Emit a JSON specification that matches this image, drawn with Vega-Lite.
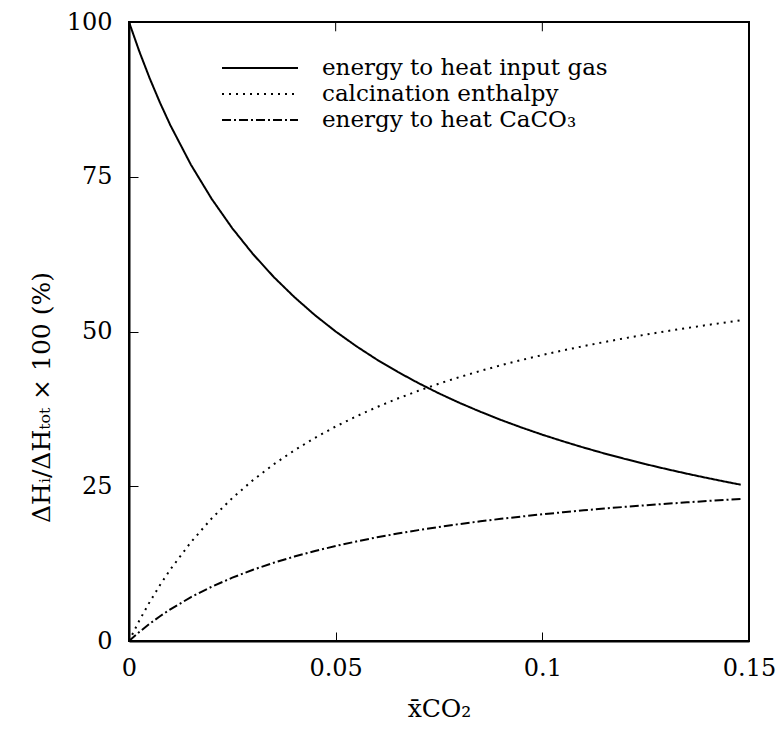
{
  "$schema": "https://vega.github.io/schema/vega-lite/v6.json",
  "autosize": "none",
  "width": 620,
  "height": 619,
  "padding": {"left": 129, "top": 22, "right": 32, "bottom": 95},
  "background": "white",
  "config": {
    "font": "DejaVu Serif",
    "view": {"stroke": "#000", "strokeWidth": 2},
    "axis": {
      "grid": false,
      "domainColor": "#000",
      "domainWidth": 2,
      "tickColor": "#000",
      "tickWidth": 1,
      "tickSize": -9,
      "labelFont": "DejaVu Serif",
      "labelFontSize": 24,
      "labelColor": "#000",
      "titleFont": "DejaVu Serif",
      "titleFontSize": 25,
      "titleFontWeight": "normal",
      "titleColor": "#000"
    }
  },
  "datasets": {
    "curves": [
      {"x": 0, "gas": 100, "calc": 0, "caco3": 0},
      {"x": 0.0025, "gas": 95.24, "calc": 3.3, "caco3": 1.46},
      {"x": 0.005, "gas": 90.91, "calc": 6.3, "caco3": 2.79},
      {"x": 0.0075, "gas": 86.96, "calc": 9.04, "caco3": 4.0},
      {"x": 0.01, "gas": 83.33, "calc": 11.55, "caco3": 5.12},
      {"x": 0.015, "gas": 76.92, "calc": 15.99, "caco3": 7.09},
      {"x": 0.02, "gas": 71.43, "calc": 19.8, "caco3": 8.77},
      {"x": 0.025, "gas": 66.67, "calc": 23.1, "caco3": 10.23},
      {"x": 0.03, "gas": 62.5, "calc": 25.99, "caco3": 11.51},
      {"x": 0.035, "gas": 58.82, "calc": 28.54, "caco3": 12.64},
      {"x": 0.04, "gas": 55.56, "calc": 30.8, "caco3": 13.64},
      {"x": 0.045, "gas": 52.63, "calc": 32.83, "caco3": 14.54},
      {"x": 0.05, "gas": 50.0, "calc": 34.65, "caco3": 15.35},
      {"x": 0.055, "gas": 47.62, "calc": 36.3, "caco3": 16.08},
      {"x": 0.06, "gas": 45.45, "calc": 37.8, "caco3": 16.75},
      {"x": 0.065, "gas": 43.48, "calc": 39.17, "caco3": 17.35},
      {"x": 0.07, "gas": 41.67, "calc": 40.42, "caco3": 17.91},
      {"x": 0.075, "gas": 40.0, "calc": 41.58, "caco3": 18.42},
      {"x": 0.08, "gas": 38.46, "calc": 42.65, "caco3": 18.89},
      {"x": 0.085, "gas": 37.04, "calc": 43.63, "caco3": 19.33},
      {"x": 0.09, "gas": 35.71, "calc": 44.55, "caco3": 19.74},
      {"x": 0.095, "gas": 34.48, "calc": 45.4, "caco3": 20.11},
      {"x": 0.1, "gas": 33.33, "calc": 46.2, "caco3": 20.47},
      {"x": 0.105, "gas": 32.26, "calc": 46.94, "caco3": 20.8},
      {"x": 0.11, "gas": 31.25, "calc": 47.64, "caco3": 21.11},
      {"x": 0.115, "gas": 30.3, "calc": 48.3, "caco3": 21.4},
      {"x": 0.12, "gas": 29.41, "calc": 48.92, "caco3": 21.67},
      {"x": 0.125, "gas": 28.57, "calc": 49.5, "caco3": 21.93},
      {"x": 0.13, "gas": 27.78, "calc": 50.05, "caco3": 22.17},
      {"x": 0.135, "gas": 27.03, "calc": 50.57, "caco3": 22.4},
      {"x": 0.14, "gas": 26.32, "calc": 51.06, "caco3": 22.62},
      {"x": 0.145, "gas": 25.64, "calc": 51.53, "caco3": 22.83},
      {"x": 0.148, "gas": 25.25, "calc": 51.8, "caco3": 22.95}
    ],
    "topTicks": [
      {"x": 0.05},
      {"x": 0.1}
    ]
  },
  "layer": [
    {
      "data": {"name": "curves"},
      "transform": [{"fold": ["gas", "calc", "caco3"], "as": ["series", "share"]}],
      "mark": {"type": "line", "color": "#000", "strokeWidth": 2, "clip": true},
      "encoding": {
        "x": {
          "field": "x",
          "type": "quantitative",
          "scale": {"domain": [0, 0.15], "nice": false, "zero": false},
          "axis": {
            "values": [0, 0.05, 0.1, 0.15],
            "format": ".2~f",
            "labelPadding": 24,
            "labelFlush": false,
            "title": "x̄CO₂",
            "titlePadding": 16
          }
        },
        "y": {
          "field": "share",
          "type": "quantitative",
          "scale": {"domain": [0, 100], "nice": false},
          "axis": {
            "values": [0, 25, 50, 75, 100],
            "labelPadding": 26,
            "labelFlush": false,
            "title": "ΔHᵢ/ΔHₜₒₜ × 100 (%)",
            "titleY": 375,
            "titlePadding": 12
          }
        },
        "strokeDash": {
          "field": "series",
          "type": "nominal",
          "scale": {
            "domain": ["gas", "calc", "caco3"],
            "range": [[1, 0], [2, 5], [9, 3, 2, 3]]
          },
          "legend": {
            "title": null,
            "orient": "none",
            "legendX": 92,
            "legendY": 33,
            "symbolType": "stroke",
            "symbolSize": 5776,
            "symbolStrokeColor": "#000",
            "symbolStrokeWidth": 2,
            "clipHeight": 26,
            "labelFont": "DejaVu Serif",
            "labelFontSize": 23,
            "labelColor": "#000",
            "labelLimit": 0,
            "labelOffset": 23,
            "rowPadding": 0,
            "labelExpr": "datum.value === 'gas' ? 'energy to heat input gas' : datum.value === 'calc' ? 'calcination enthalpy' : 'energy to heat CaCO₃'"
          }
        }
      }
    },
    {
      "data": {"name": "topTicks"},
      "mark": {"type": "rule", "color": "#000", "strokeWidth": 1},
      "encoding": {
        "x": {"field": "x", "type": "quantitative"},
        "y": {"datum": 100},
        "y2": {"datum": 98.5}
      }
    }
  ]
}
